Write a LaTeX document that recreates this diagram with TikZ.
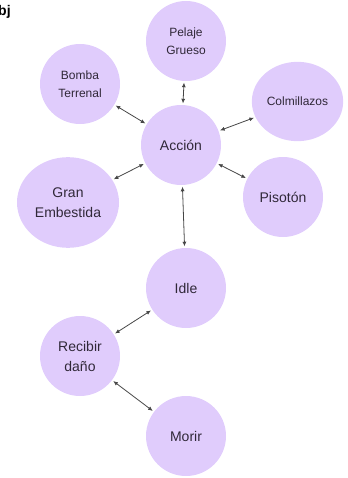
\documentclass[tikz,border=0pt]{standalone}
\usepackage{fontspec}
\setmainfont{Liberation Sans}
\usetikzlibrary{arrows.meta, shapes.geometric}
\definecolor{lila}{RGB}{224,204,252}
\definecolor{ink}{RGB}{48,40,56}
\definecolor{linkgray}{RGB}{70,70,70}

\begin{document}
\begin{tikzpicture}[x=0.75pt, y=-0.75pt,
        state/.style={circle, fill=lila, minimum size=60pt, inner sep=0pt, align=center, text=ink, font=\fontsize{10.5}{15}\selectfont},
        smallstate/.style={state, font=\fontsize{9}{13.5}\selectfont},
        link/.style={{Latex[length=3.5pt, width=3pt]}-{Latex[length=3.5pt, width=3pt]}, draw=linkgray, line width=0.6pt, shorten <=1pt, shorten >=1pt}]
        \useasboundingbox (0,0) rectangle (347,478);

        % Draw nodes
        \node[font=\bfseries\fontsize{10.5}{12}\selectfont, anchor=base west, text=black] (titulo) at (-6.5,16) {bj};
        \node[smallstate] (pelaje) at (186,41) {Pelaje\\Grueso};
        \node[smallstate] (bomba) at (80,84) {Bomba\\Terrenal};
        \node[smallstate, ellipse, minimum width=68.5pt, minimum height=59.5pt] (colmillazos) at (297.5,101.5) {Colmillazos};
        \node[state] (accion) at (181,145) {Acción};
        \node[state, ellipse, minimum width=76.5pt, minimum height=68pt] (gran) at (68,202.5) {Gran\\Embestida};
        \node[state] (pisoton) at (283,197) {Pisotón};
        \node[state] (idle) at (186,288) {Idle};
        \node[state] (recibir) at (80,356) {Recibir\\daño};
        \node[state] (morir) at (186,436) {Morir};

        % Draw connections
        \draw[link] (accion) -- (pelaje);
        \draw[link] (accion) -- (bomba);
        \draw[link] (accion) -- (colmillazos);
        \draw[link] (accion) -- (gran);
        \draw[link] (accion) -- (pisoton);
        \draw[link] (accion) -- (idle);
        \draw[link] (idle) -- (recibir);
        \draw[link] (recibir) -- (morir);
    \end{tikzpicture}
\end{document}
